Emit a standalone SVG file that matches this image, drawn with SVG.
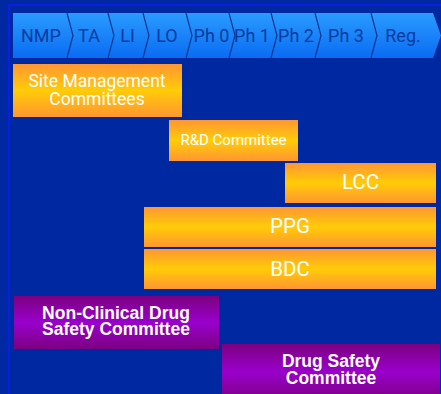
<svg xmlns="http://www.w3.org/2000/svg" width="441" height="394" viewBox="0 0 441 394">
  <defs>
    <linearGradient id="phaseFill" x1="0" y1="0" x2="0" y2="1">
      <stop offset="0" stop-color="#2a9bff"/>
      <stop offset="1" stop-color="#0a6cf2"/>
    </linearGradient>
    <linearGradient id="orangeFill" x1="0" y1="0" x2="0" y2="1">
      <stop offset="0" stop-color="#ff9633"/>
      <stop offset="0.5" stop-color="#ffcc08"/>
      <stop offset="1" stop-color="#ff9633"/>
    </linearGradient>
    <linearGradient id="purpleFill" x1="0" y1="0" x2="0" y2="1">
      <stop offset="0" stop-color="#7c0080"/>
      <stop offset="0.5" stop-color="#9a00cc"/>
      <stop offset="1" stop-color="#7c0080"/>
    </linearGradient>
    <style>
      .phase { font-family: Roboto, "Liberation Sans", sans-serif; font-size: 18px; fill: #0b3a9e; text-anchor: middle; }
      .sep { fill: none; stroke: #0d3590; stroke-width: 1.2; }
      .orange { fill: url(#orangeFill); }
      .purple { fill: url(#purpleFill); }
      .otext { font-family: Roboto, "Liberation Sans", sans-serif; fill: #ffffff; text-anchor: middle; }
      .ptext { font-family: "Liberation Sans", Arial, sans-serif; font-weight: bold; font-size: 17.5px; fill: #ffffff; text-anchor: middle; }
    </style>
  </defs>

  <!-- background and frame lines -->
  <rect x="0" y="0" width="441" height="394" fill="#0028a0"/>
  <path d="M9 394 V5 H441" fill="none" stroke="#0a1ee6" stroke-width="2"/>

  <!-- phase bar -->
  <g id="phases">
    <polygon points="13,13 433,13 441,35.5 433,58 13,58" fill="url(#phaseFill)"/>
    <polyline class="sep" points="67,13 73,35.5 67,58"/>
    <polyline class="sep" points="108,13 114,35.5 108,58"/>
    <polyline class="sep" points="143,13 149,35.5 143,58"/>
    <polyline class="sep" points="186,13 192,35.5 186,58"/>
    <polyline class="sep" points="229,13 235,35.5 229,58"/>
    <polyline class="sep" points="271,13 277,35.5 271,58"/>
    <polyline class="sep" points="315,13 321,35.5 315,58"/>
    <polyline class="sep" points="371,13 377,35.5 371,58"/>
    <text class="phase" x="41" y="42">NMP</text>
    <text class="phase" x="89" y="42">TA</text>
    <text class="phase" x="127.5" y="42">LI</text>
    <text class="phase" x="167" y="42">LO</text>
    <text class="phase" x="211.5" y="42">Ph 0</text>
    <text class="phase" x="252" y="42">Ph 1</text>
    <text class="phase" x="296" y="42">Ph 2</text>
    <text class="phase" x="346" y="42">Ph 3</text>
    <text class="phase" x="403" y="42">Reg.</text>
  </g>

  <!-- committees -->
  <g id="site-management">
    <rect class="orange" x="13" y="64" width="169" height="53"/>
    <text class="otext" x="97" y="87" font-size="17.5">Site Management</text>
    <text class="otext" x="97" y="104.5" font-size="17.5">Committees</text>
  </g>

  <g id="rd-committee">
    <rect class="orange" x="169" y="120" width="129" height="41"/>
    <text class="otext" x="233.5" y="145" font-size="15">R&amp;D Committee</text>
  </g>

  <g id="lcc">
    <rect class="orange" x="285" y="163" width="151" height="40"/>
    <text class="otext" x="360.5" y="189" font-size="20.5">LCC</text>
  </g>

  <g id="ppg">
    <rect class="orange" x="144" y="207" width="292" height="40"/>
    <text class="otext" x="290" y="233" font-size="20.5">PPG</text>
  </g>

  <g id="bdc">
    <rect class="orange" x="144" y="249" width="292" height="40"/>
    <text class="otext" x="290" y="276" font-size="20.5">BDC</text>
  </g>

  <g id="non-clinical-safety">
    <rect class="purple" x="14" y="296" width="205" height="53"/>
    <text class="ptext" x="116" y="319">Non-Clinical Drug</text>
    <text class="ptext" x="116" y="335">Safety Committee</text>
  </g>

  <g id="drug-safety">
    <rect class="purple" x="222" y="344" width="218" height="56"/>
    <text class="ptext" x="331" y="367">Drug Safety</text>
    <text class="ptext" x="331" y="384">Committee</text>
  </g>

  <g id="connectors"/>
</svg>
